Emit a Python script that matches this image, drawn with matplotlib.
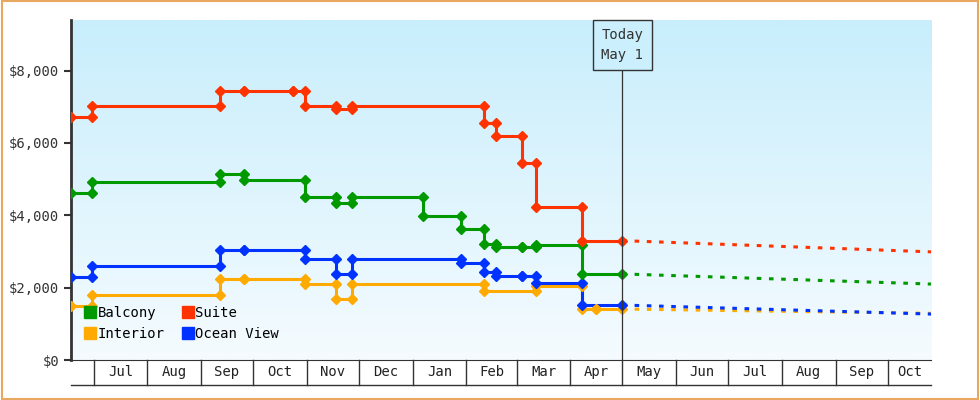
import matplotlib
matplotlib.use('Agg')
import matplotlib.pyplot as plt
import matplotlib.dates as mdates
import numpy as np
import pandas as pd

# price history: start value, then (change date, new value) steps; markers at both ends
start_date = '2023-06-18'
today = '2024-05-01'
end_date = '2024-10-26'

suite_start = 6730
suite_steps = [('2023-06-30', 7010), ('2023-09-12', 7450), ('2023-09-26', 7450),
               ('2023-10-24', 7450), ('2023-10-31', 7010), ('2023-11-18', 6950),
               ('2023-11-27', 7010), ('2024-02-11', 6540), ('2024-02-18', 6200),
               ('2024-03-04', 5460), ('2024-03-12', 4240), ('2024-04-08', 3300)]
suite_forecast = [3300, 2990]

balcony_start = 4620
balcony_steps = [('2023-06-30', 4920), ('2023-09-12', 5150), ('2023-09-26', 4980),
                 ('2023-10-31', 4520), ('2023-11-18', 4330), ('2023-11-27', 4500),
                 ('2024-01-07', 3990), ('2024-01-29', 3620), ('2024-02-11', 3200),
                 ('2024-02-18', 3130), ('2024-03-04', 3130), ('2024-03-12', 3180),
                 ('2024-04-08', 2380)]
balcony_forecast = [2380, 2100]

ocean_start = 2300
ocean_steps = [('2023-06-30', 2600), ('2023-09-12', 3050), ('2023-09-26', 3050),
               ('2023-10-31', 2790), ('2023-11-18', 2380), ('2023-11-27', 2800),
               ('2024-01-29', 2680), ('2024-02-11', 2430), ('2024-02-18', 2330),
               ('2024-03-04', 2310), ('2024-03-12', 2130), ('2024-04-08', 1520)]
ocean_forecast = [1520, 1270]

interior_start = 1500
interior_steps = [('2023-06-30', 1800), ('2023-09-12', 2240), ('2023-09-26', 2240),
                  ('2023-10-31', 2100), ('2023-11-18', 1690), ('2023-11-27', 2100),
                  ('2024-02-11', 1900), ('2024-03-12', 2050), ('2024-04-08', 1410),
                  ('2024-04-16', 1410)]
interior_forecast = [1410, 1290]

month_starts = pd.date_range('2023-07-01', '2024-10-01', freq='MS')
month_labels = [d.strftime('%b') for d in month_starts]

series = [
    ('Balcony', '#009900', balcony_start, balcony_steps, balcony_forecast),
    ('Suite', '#ff3300', suite_start, suite_steps, suite_forecast),
    ('Interior', '#ffaa00', interior_start, interior_steps, interior_forecast),
    ('Ocean View', '#0033ff', ocean_start, ocean_steps, ocean_forecast),
]
draw_order = ['Interior', 'Ocean View', 'Balcony', 'Suite']

plt.rcParams['font.family'] = 'DejaVu Sans Mono'
fig = plt.figure(figsize=(9.8, 4), dpi=100, facecolor='white')
fig.patches.append(plt.Rectangle((0.002, 0.003), 0.996, 0.994, transform=fig.transFigure,
                                 fill=False, edgecolor='#e8a860', linewidth=1.5))
ax = fig.add_axes([71 / 980, 40 / 400, 860 / 980, 340 / 400])

d0 = mdates.date2num(pd.Timestamp(start_date))
d1 = mdates.date2num(pd.Timestamp(end_date))
dt = mdates.date2num(pd.Timestamp(today))

# background gradient
grad = np.linspace(0, 1, 256).reshape(-1, 1)
ax.imshow(grad, extent=[0, 1, 0, 1], transform=ax.transAxes, aspect='auto',
          cmap=matplotlib.colors.LinearSegmentedColormap.from_list('bg', ['#f5fbff', '#c8eefc']),
          origin='lower', zorder=0)

handles = {}
for name, color, start, steps, forecast in sorted(series, key=lambda s: draw_order.index(s[0])):
    xs = [d0]
    ys = [start]
    cur = start
    for d, v in steps:
        x = mdates.date2num(pd.Timestamp(d))
        xs += [x, x]
        ys += [cur, v]
        cur = v
    xs.append(dt)
    ys.append(cur)
    ax.plot(xs, ys, color=color, linewidth=2.2, zorder=3)
    ax.plot(xs, ys, linestyle='none', marker='D', markersize=5.5, color=color, zorder=4)
    ax.plot([dt, d1], forecast, color=color, linewidth=2.2, linestyle=(0, (1.5, 2.5)), zorder=3)
    handles[name] = plt.Line2D([], [], linestyle='none', marker='s', markersize=9, color=color)

ax.legend([handles[n] for n in ['Balcony', 'Interior', 'Suite', 'Ocean View']],
          ['Balcony', 'Interior', 'Suite', 'Ocean View'], ncol=2, loc='lower left',
          bbox_to_anchor=(0.0, 0.02), frameon=False, handletextpad=0.0, columnspacing=1.2,
          labelspacing=0.5, handlelength=1.0, fontsize=10)

# today marker
ax.axvline(dt, color='#333333', linewidth=0.9, zorder=5)
ax.text(dt, 0.975, 'Today\nMay 1', transform=ax.get_xaxis_transform(), ha='center', va='top',
        fontsize=10, color='#333333', linespacing=1.5, zorder=6,
        bbox=dict(boxstyle='square,pad=0.6', facecolor='#cbeffc', edgecolor='#333333', linewidth=1))

ax.set_xlim(d0, d1)
ax.set_ylim(0, 9400)
ax.set_yticks([0, 2000, 4000, 6000, 8000])
ax.set_yticklabels(['$0', '$2,000', '$4,000', '$6,000', '$8,000'])
ax.tick_params(axis='y', direction='out', length=5, width=1.5, color='#333333',
               labelsize=10, labelcolor='#333333')
for s in ['top', 'right']:
    ax.spines[s].set_visible(False)
ax.spines['left'].set_linewidth(2)
ax.spines['left'].set_color('#333333')
ax.spines['bottom'].set_color('#333333')

# month boxes below the axis
ax.set_xticks([])
tr = ax.get_xaxis_transform()
ms = [mdates.date2num(d) for d in month_starts]
for m in ms:
    ax.plot([m, m], [0, -25 / 340], transform=tr, color='#333333', linewidth=1, clip_on=False)
ax.plot([d0, d1], [-25 / 340, -25 / 340], transform=tr, color='#333333', linewidth=1, clip_on=False)
edges = ms + [d1]
for i, lab in enumerate(month_labels):
    ax.text((edges[i] + edges[i + 1]) / 2, -12 / 340, lab, transform=tr, ha='center',
            va='center', fontsize=10, color='#222222')

plt.savefig('out.png', dpi=100, facecolor='white')
